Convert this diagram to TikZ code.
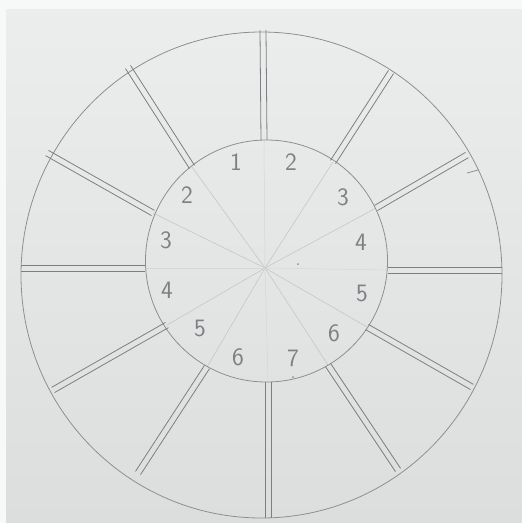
\documentclass[tikz,border=0pt]{standalone}
\usetikzlibrary{calc}
\definecolor{paperTop}{HTML}{ECEEEE}
\definecolor{paperBot}{HTML}{DCDEDE}
\definecolor{edgeWhite}{HTML}{F7F8F8}
\definecolor{pencil}{HTML}{8C8F91}
\definecolor{pencilDark}{HTML}{7C7F81}
\definecolor{pencilFaint}{HTML}{C4C7C8}
\definecolor{digit}{HTML}{7E8184}
\tikzset{
  rim/.style={draw=pencil, line width=0.8pt},
  spokeline/.style={draw=pencilDark, line width=0.8pt},
  guide/.style={draw=pencilFaint, line width=0.6pt},
  guidefaint/.style={draw=pencilFaint!60!paperTop, line width=0.5pt},
  num/.style={text=digit, font=\sffamily\fontsize{25}{25}\selectfont, inner sep=0pt},
}
\begin{document}
\begin{tikzpicture}[x=1pt,y=-1pt]
  \useasboundingbox (0,0) rectangle (522,523);
  % paper
  \shade[top color=paperTop, bottom color=paperBot] (0,0) rectangle (522,523);
  \fill[edgeWhite] (0,0) rectangle (522,9);
  \fill[edgeWhite] (0,0) rectangle (6,523);
  % centre of the guide lines
  \coordinate (c) at (265,268);
  % spoke end points: outer / inner
  \foreach \ox/\oy/\ix/\iy [count=\k] in {
      263/30/264/140, 391/72/333/162, 467/155/376/208, 502/270/388/270,
      472/387/367/327, 398/470/328/365, 268/518/268/382, 138/473/207/367,
      53/390/167/325, 21/268/145/268, 47/153/153/213, 128/67/192/167}{
    \coordinate (o\k) at (\ox,\oy);
    \coordinate (i\k) at (\ix,\iy);
  }
  % faint guide lines inside the inner circle
  \foreach \k in {2,3,5,6,8,9,11,12}{
    \draw[guide] (c) -- (i\k);
  }
  \foreach \k in {1,4,7,10}{
    \draw[guidefaint] (c) -- (i\k);
  }
  % circles
  \draw[rim] (261.5,275) ellipse [x radius=240.5, y radius=243];
  \draw[rim] (266.5,261) circle [radius=121];
  % double spokes
  \foreach \k in {1,...,12}{
    \draw[spokeline] ($(o\k)!3pt!90:(i\k)$) -- ($(i\k)!3pt!-90:(o\k)$);
    \draw[spokeline] ($(o\k)!3pt!-90:(i\k)$) -- ($(i\k)!3pt!90:(o\k)$);
  }
  % small pencil marks
  \draw[rim] (467,173) -- (478,170);
  \fill[pencil] (298,264) circle [radius=1];
  \fill[pencil] (293,377) circle [radius=1];
  % numbers
  \node[num] (n1)  at (236,162) {1};
  \node[num] (n2)  at (291,162) {2};
  \node[num] (n3)  at (343,197) {3};
  \node[num] (n4)  at (361,242) {4};
  \node[num] (n5)  at (362,293) {5};
  \node[num] (n6)  at (334,333) {6};
  \node[num] (n7)  at (293,358) {7};
  \node[num] (n6b) at (238,357) {6};
  \node[num] (n5b) at (200,328) {5};
  \node[num] (n4b) at (167,290) {4};
  \node[num] (n3b) at (166,240) {3};
  \node[num] (n2b) at (187,195) {2};
\end{tikzpicture}
\end{document}
